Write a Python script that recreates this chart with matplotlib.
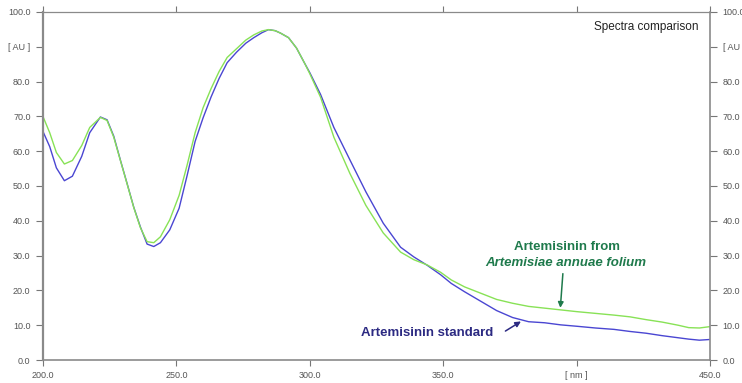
import matplotlib
matplotlib.use("Agg")
import matplotlib.pyplot as plt  # noqa: E402

# ------ spectra (wavelength in nm, absorbance in AU) ------
NM = [200, 202.5, 205, 208, 211, 214.5, 217.5, 221.5, 224, 226.5, 229, 231.5,
      234, 236.5, 239, 241.5, 244, 247.5, 251, 254, 257, 260, 263, 266, 269,
      272.5, 276, 279, 282, 284.5, 287, 289, 292, 295, 298, 300, 304, 309,
      315, 321, 327.5, 334, 339, 344, 349, 353, 358, 364, 370, 376, 382, 388,
      394, 400, 407, 414, 420, 426, 432, 438, 442, 446, 450]

SAMPLE = [69.9, 65.3, 59.6, 56.3, 57.3, 61.6, 66.8, 69.7, 68.8, 64.0, 57.3, 50.6,
          43.8, 38.0, 34.0, 33.7, 35.4, 40.3, 47.3, 56.0, 65.3, 72.5, 78.0, 82.9, 86.9,
          89.4, 91.9, 93.4, 94.5, 94.9, 94.6, 93.9, 92.6, 89.6, 85.3, 82.2, 75.5, 64.0,
          53.6, 44.4, 36.5, 31.0, 28.8, 27.3, 25.2, 23.0, 21.0, 19.2, 17.4, 16.3, 15.4, 14.9,
          14.4, 13.9, 13.4, 12.9, 12.4, 11.6, 10.9, 10.0, 9.3, 9.2, 9.6]

STANDARD = [65.6, 61.3, 55.2, 51.5, 52.8, 58.5, 65.3, 69.8, 69.0, 64.3, 57.4, 50.7,
            43.9, 38.2, 33.3, 32.6, 33.7, 37.4, 43.6, 53.0, 62.8, 69.6, 75.6, 80.9, 85.4,
            88.4, 91.0, 92.6, 94.0, 94.9, 94.6, 93.9, 92.6, 89.6, 85.3, 82.5, 76.3, 66.8,
            57.5, 48.3, 39.3, 32.4, 29.6, 27.2, 24.5, 22.0, 19.6, 16.9, 14.2, 12.2, 11.0, 10.7,
            10.1, 9.7, 9.2, 8.8, 8.2, 7.7, 7.0, 6.4, 6.0, 5.7, 5.9]

X_TICKS = [200, 250, 300, 350, 400, 450]
X_LABELS = ["200.0", "250.0", "300.0", "350.0", "[ nm ]", "450.0"]
Y_TICKS = [0, 10, 20, 30, 40, 50, 60, 70, 80, 90, 100]
Y_LABELS = ["0.0", "10.0", "20.0", "30.0", "40.0", "50.0", "60.0", "70.0",
            "80.0", "[ AU ]", "100.0"]

plt.rcParams["font.family"] = ["Liberation Sans", "DejaVu Sans"]

fig = plt.figure(figsize=(7.42, 3.83), dpi=100)
ax = fig.add_axes([0.058, 0.060, 0.899, 0.909])

ax.plot(NM, STANDARD, color="#4a46d2", lw=1.0)
ax.plot(NM, SAMPLE, color="#88e256", lw=1.0)

ax.set_xlim(200, 450)
ax.set_ylim(0, 100)

ax.set_xticks(X_TICKS)
ax.set_xticklabels(X_LABELS)
ax.set_yticks(Y_TICKS)
ax.set_yticklabels(Y_LABELS)
ax.tick_params(axis="both", colors="#777777", labelcolor="#555555",
               labelsize=6.5, direction="out", length=4, width=0.8)
ax.tick_params(axis="y", left=True, right=True, labelleft=True,
               labelright=True, length=5, pad=4)
ax.tick_params(axis="x", top=True, bottom=True, pad=4)
ax.tick_params(axis="x", which="major", top=True, length=3)
ax.tick_params(axis="x", bottom=True, length=4)

for side, lw in (("left", 1.6), ("right", 1.2), ("top", 0.9), ("bottom", 1.2)):
    ax.spines[side].set_color("#8a8a8a")
    ax.spines[side].set_linewidth(lw)

ax.text(445.5, 95.7, "Spectra comparison", ha="right", va="center",
        fontsize=8.5, color="#222222")

green_txt = "#1f7a4c"
blue_txt = "#2c2a82"
ax.text(396.4, 32.5, "Artemisinin from", ha="center", va="center",
        fontsize=9.5, fontweight="bold", color=green_txt)
ax.text(396.0, 28.0, "Artemisiae annuae folium", ha="center", va="center",
        fontsize=9.5, fontweight="bold", fontstyle="italic", color=green_txt)
ax.annotate("", xy=(393.8, 14.2), xytext=(394.9, 25.6),
            arrowprops=dict(arrowstyle="-|>", color=green_txt, lw=1.1,
                            mutation_scale=8))

ax.text(344.1, 7.8, "Artemisinin standard", ha="center", va="center",
        fontsize=9.5, fontweight="bold", color=blue_txt)
ax.annotate("", xy=(380.0, 11.5), xytext=(372.4, 7.9),
            arrowprops=dict(arrowstyle="-|>", color=blue_txt, lw=1.1,
                            mutation_scale=8))

fig.savefig("out.png", dpi=100)
